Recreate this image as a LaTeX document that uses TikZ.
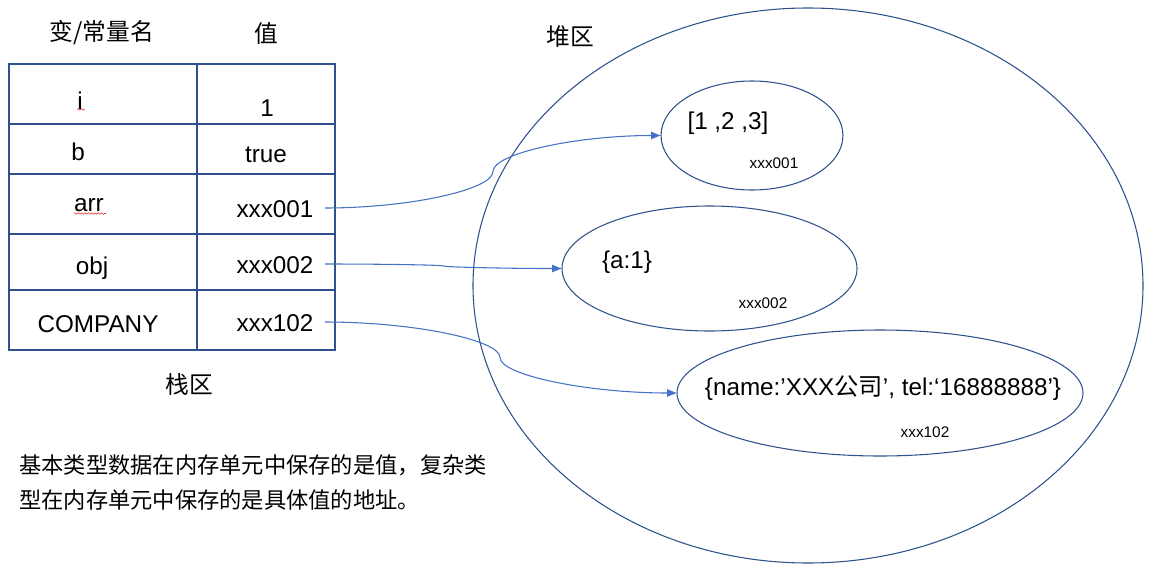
\documentclass[tikz,border=0pt]{standalone}
\usepackage{fontspec}
\setmainfont{Liberation Sans}
\newfontfamily\cjk{Noto Sans CJK SC}
\usetikzlibrary{arrows.meta,shapes.geometric,decorations.pathmorphing}
\definecolor{framec}{HTML}{2F528F}
\definecolor{linkc}{HTML}{4472C4}
\definecolor{spellc}{HTML}{E03030}
\begin{document}
\begin{tikzpicture}[x=0.75pt,y=-0.75pt,
  lat/.style={font=\fontsize{18.2}{21}\selectfont, inner sep=0pt},
  zh/.style={font=\fontsize{16.7}{20}\selectfont\cjk, inner sep=0pt},
  zhh/.style={font=\fontsize{17.8}{21}\selectfont\cjk, inner sep=0pt},
  tiny/.style={font=\fontsize{11.5}{13}\selectfont, inner sep=0pt},
  frame/.style={draw=framec, line width=0.8pt},
  blob/.style={ellipse, draw=framec, line width=0.8pt, inner sep=0pt},
  link/.style={draw=linkc, line width=0.8pt, -{Triangle[length=7pt,width=5.5pt]}},
  spell/.style={draw=spellc, line width=0.4pt, decorate, decoration={snake, amplitude=0.6pt, segment length=2.5pt}}]
\useasboundingbox (0,0) rectangle (1168,586);

% table
\draw[frame] (9,64) rectangle (335,350);
\draw[frame] (197,64) -- (197,350);
\foreach \y in {124,174,234,290} \draw[frame] (9,\y) -- (335,\y);

% headers
\node[zhh] (h1) at (102,33) {变/常量名};
\node[zhh] (h2) at (266,33) {值};
\node[zhh] (stack) at (189,384) {栈区};
\node[zhh] (heap) at (570,37) {堆区};

% cells
\node[lat] (n1) at (80,101) {i};
\node[lat] (v1) at (267,108) {1};
\node[lat] (n2) at (78,152) {b};
\node[lat] (v2) at (266,155) {true};
\node[lat] (n3) at (89,205) {arr};
\node[lat] (v3) at (275,209) {xxx001};
\node[lat] (n4) at (92,268) {obj};
\node[lat] (v4) at (275,265) {xxx002};
\node[lat] (n5) at (98,324) {COMPANY};
\node[lat] (v5) at (275,323) {xxx102};

% spell-check marks
\draw[spell] (77,109.5) -- (84.5,109.5);
\draw[spell] (74,213.5) -- (106,213.5);

% heap
\node[blob, minimum width=670*0.75pt, minimum height=555*0.75pt] (big) at (808,285.5) {};
\node[blob, minimum width=182*0.75pt, minimum height=109*0.75pt] (e1) at (752,135.5) {};
\node[blob, minimum width=295*0.75pt, minimum height=125*0.75pt] (e2) at (709.5,268.5) {};
\node[blob, minimum width=406*0.75pt, minimum height=126*0.75pt] (e3) at (880,393) {};

\node[lat] (t1) at (728,123) {[1 ,2 ,3]};
\node[tiny] (a1) at (774,163) {xxx001};
\node[lat] (t2) at (627,262) {\{a:1\}};
\node[tiny] (a2) at (763,303) {xxx002};
\node[lat] (t3) at (883,388) {\{name:’XXX{\cjk 公司}’, tel:‘16888888’\}};
\node[tiny] (a3) at (925,432) {xxx102};

% note
\node[zh, anchor=west] (note1) at (19,465) {基本类型数据在内存单元中保存的是值，复杂类};
\node[zh, anchor=west] (note2) at (19,500) {型在内存单元中保存的是具体值的地址。};

% connectors
\coordinate (s1) at (325,208);
\coordinate (s2) at (325,264);
\coordinate (s3) at (325,322);
\draw[link] (s1) .. controls (409,208) and (493,189.75) .. (493,171.5)
  .. controls (493,153.25) and (577,135.5) .. (e1.west);
\draw[link] (s2) .. controls (384,264) and (443.5,265) .. (443.5,266)
  .. controls (443.5,267) and (503,268.5) .. (e2.west);
\draw[link] (s3) .. controls (412.5,322) and (500,339.75) .. (500,357.5)
  .. controls (500,375.25) and (588.5,393) .. (e3.west);
\end{tikzpicture}
\end{document}
